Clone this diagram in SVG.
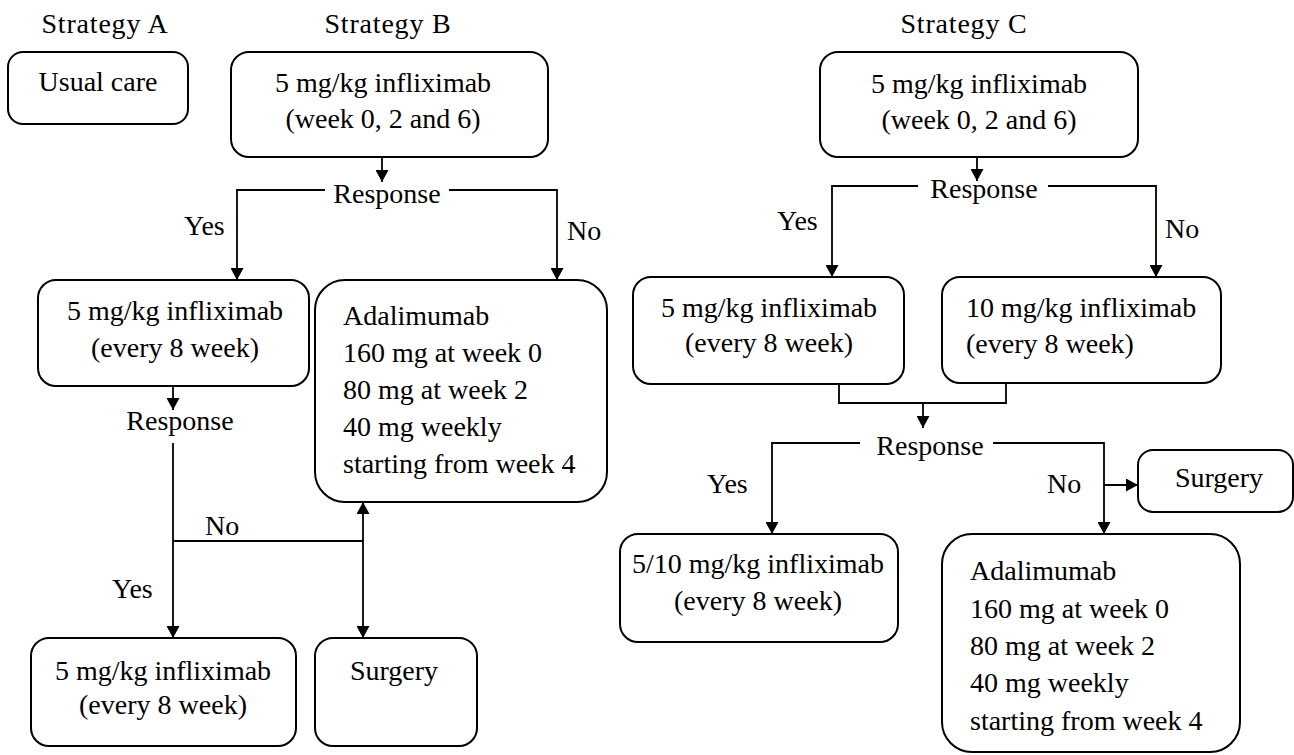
<svg xmlns="http://www.w3.org/2000/svg" width="1294" height="755" viewBox="0 0 1294 755" font-family="Liberation Serif, Times New Roman, serif" font-size="28">
<style>
text{fill:#000}
.c{text-anchor:middle}
.st{letter-spacing:0.8px}
.box{fill:#fff;stroke:#000;stroke-width:2}
.ln{fill:none;stroke:#000;stroke-width:1.8}
</style>
<defs>
<marker id="ah" markerUnits="userSpaceOnUse" markerWidth="13" markerHeight="13" refX="12" refY="6.5" orient="auto">
<path d="M0,0 L12,6.5 L0,13 z" fill="#000"/>
</marker>
</defs>
<rect width="1294" height="755" fill="#fff"/>
<g id="headers">
<text class="c st" x="105" y="33">Strategy A</text>
<text class="c st" x="388" y="33">Strategy B</text>
<text class="c st" x="964" y="33">Strategy C</text>
</g>
<g id="connectors">
<path class="ln" d="M382,157 V182" marker-end="url(#ah)"/>
<path class="ln" d="M325,190 H237 V280" marker-end="url(#ah)"/>
<path class="ln" d="M449,190 H557 V280" marker-end="url(#ah)"/>
<path class="ln" d="M173,386 V410" marker-end="url(#ah)"/>
<path class="ln" d="M173,443 V638" marker-end="url(#ah)"/>
<path class="ln" d="M173,541 H363"/>
<path class="ln" d="M363,541 V502" marker-end="url(#ah)"/>
<path class="ln" d="M363,541 V638" marker-end="url(#ah)"/>
<path class="ln" d="M977,157 V181" marker-end="url(#ah)"/>
<path class="ln" d="M918,186 H832 V277" marker-end="url(#ah)"/>
<path class="ln" d="M1048,186 H1156 V277" marker-end="url(#ah)"/>
<path class="ln" d="M839,384 V403 H1006 V383"/>
<path class="ln" d="M923,403 V428" marker-end="url(#ah)"/>
<path class="ln" d="M860,443 H772 V534" marker-end="url(#ah)"/>
<path class="ln" d="M993,443 H1104 V534" marker-end="url(#ah)"/>
<path class="ln" d="M1104,485 H1138" marker-end="url(#ah)"/>
</g>
<g id="labels">
<text class="c" x="387" y="203">Response</text>
<text x="184" y="235">Yes</text>
<text x="567" y="240">No</text>
<text class="c" x="180" y="430">Response</text>
<text x="205" y="535">No</text>
<text x="112" y="598">Yes</text>
<text class="c" x="984" y="198">Response</text>
<text x="777" y="230">Yes</text>
<text x="1165" y="238">No</text>
<text class="c" x="930" y="455">Response</text>
<text x="707" y="493">Yes</text>
<text x="1047" y="493">No</text>
</g>
<g id="a-usual-care">
<rect class="box" x="8" y="52" width="180" height="72" rx="15"/>
<text class="c" x="98" y="91">Usual care</text>
</g>
<g id="b-induction">
<rect class="box" x="231" y="52" width="317" height="105" rx="18"/>
<text class="c" x="383" y="92">5 mg/kg infliximab</text>
<text class="c" x="383" y="128">(week 0, 2 and 6)</text>
</g>
<g id="b-maintenance">
<rect class="box" x="38" y="280" width="271" height="106" rx="18"/>
<text class="c" x="175" y="320">5 mg/kg infliximab</text>
<text class="c" x="175" y="357">(every 8 week)</text>
</g>
<g id="b-adalimumab">
<rect class="box" x="315" y="280" width="292" height="222" rx="30"/>
<text x="343" y="325">Adalimumab</text>
<text x="343" y="362">160 mg at week 0</text>
<text x="343" y="399">80 mg at week 2</text>
<text x="343" y="436">40 mg weekly</text>
<text x="343" y="473">starting from week 4</text>
</g>
<g id="b-continue">
<rect class="box" x="31" y="638" width="265" height="108" rx="18"/>
<text class="c" x="163" y="680">5 mg/kg infliximab</text>
<text class="c" x="163" y="714">(every 8 week)</text>
</g>
<g id="b-surgery">
<rect class="box" x="315" y="638" width="162" height="108" rx="18"/>
<text class="c" x="394" y="680">Surgery</text>
</g>
<g id="c-induction">
<rect class="box" x="820" y="52" width="318" height="105" rx="18"/>
<text class="c" x="979" y="93">5 mg/kg infliximab</text>
<text class="c" x="979" y="129">(week 0, 2 and 6)</text>
</g>
<g id="c-5mg">
<rect class="box" x="633" y="277" width="271" height="107" rx="18"/>
<text class="c" x="769" y="317">5 mg/kg infliximab</text>
<text class="c" x="769" y="352">(every 8 week)</text>
</g>
<g id="c-10mg">
<rect class="box" x="942" y="277" width="279" height="106" rx="18"/>
<text x="966" y="317">10 mg/kg infliximab</text>
<text x="966" y="353">(every 8 week)</text>
</g>
<g id="c-surgery">
<rect class="box" x="1138" y="450" width="155" height="62" rx="15"/>
<text class="c" x="1219" y="487">Surgery</text>
</g>
<g id="c-continue">
<rect class="box" x="620" y="534" width="278" height="108" rx="18"/>
<text class="c" x="758" y="573">5/10 mg/kg infliximab</text>
<text class="c" x="758" y="610">(every 8 week)</text>
</g>
<g id="c-adalimumab">
<rect class="box" x="942" y="534" width="298" height="218" rx="30"/>
<text x="970" y="580">Adalimumab</text>
<text x="970" y="618">160 mg at week 0</text>
<text x="970" y="655">80 mg at week 2</text>
<text x="970" y="692">40 mg weekly</text>
<text x="970" y="730">starting from week 4</text>
</g>
</svg>
